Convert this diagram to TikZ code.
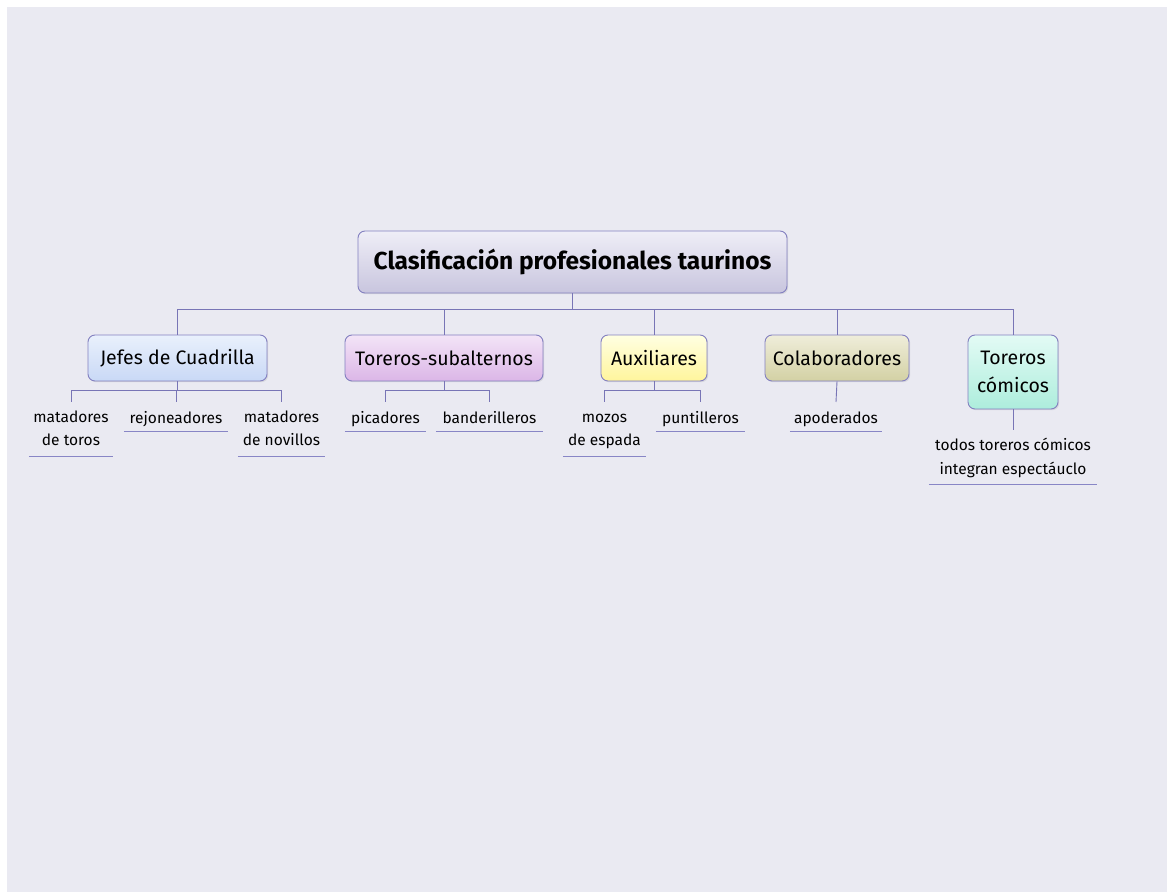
\documentclass[tikz,border=0pt]{standalone}
\usepackage{fontspec}
\setmainfont{Fira Sans}
\usetikzlibrary{shadows}
\definecolor{bgc}{HTML}{EAEAF2}
\definecolor{linec}{HTML}{7875B6}
\definecolor{ulc}{HTML}{8886C6}
\definecolor{borderc}{HTML}{8380C0}
\definecolor{rootT}{HTML}{EFEEF7}
\definecolor{rootB}{HTML}{C8C5DE}
\definecolor{jefT}{HTML}{E9F0FC}
\definecolor{jefB}{HTML}{C9D9F6}
\definecolor{subT}{HTML}{F3E4F7}
\definecolor{subB}{HTML}{DBB6E7}
\definecolor{auxT}{HTML}{FFFFE2}
\definecolor{auxB}{HTML}{FFF59C}
\definecolor{colT}{HTML}{EFEDDA}
\definecolor{colB}{HTML}{D3D1A4}
\definecolor{comT}{HTML}{E3FBF5}
\definecolor{comB}{HTML}{ADEDDC}
\tikzset{
  x=1pt, y=-1pt,
  conn/.style={draw=linec, line width=0.9pt},
  topic/.style={draw=borderc, line width=0.9pt, rounded corners=7pt, align=center,
    inner sep=0pt, font=\fontsize{19.5}{28}\selectfont,
    drop shadow={opacity=0.18, shadow xshift=1.2pt, shadow yshift=-1.2pt}},
  leaf/.style={anchor=north, align=center, inner sep=0pt,
    font=\fontsize{15.5}{24}\selectfont},
  leafone/.style={leaf, minimum height=29pt, text height=13pt, text depth=0pt},
  leaftwo/.style={leaf, minimum height=54pt},
}
\newcommand{\uline}[1]{\draw[ulc, line width=0.9pt] (#1.south west) -- (#1.south east);}
\newcommand{\twolines}[2]{\strut #1\\\strut #2}
\begin{document}
\begin{tikzpicture}
\useasboundingbox (0,0) rectangle (1168,893);
\fill[white] (0,0) rectangle (1168,893);
\fill[bgc] (7,7) rectangle (1167,892);

% root
\node[topic, top color=rootT, bottom color=rootB,
  minimum width=429pt, minimum height=62pt, font=\fontsize{24.5}{28}\selectfont\bfseries]
  (root) at (572.5,262) {Clasificación profesionales taurinos};

% main topics
\node[topic, top color=jefT, bottom color=jefB,
  minimum width=179pt, minimum height=46pt] (jefes) at (177.5,358) {Jefes de Cuadrilla};
\node[topic, top color=subT, bottom color=subB,
  minimum width=198pt, minimum height=46pt] (sub) at (444,358) {Toreros-subalternos};
\node[topic, top color=auxT, bottom color=auxB,
  minimum width=106pt, minimum height=46pt] (aux) at (654,358) {Auxiliares};
\node[topic, top color=colT, bottom color=colB,
  minimum width=144pt, minimum height=46pt] (col) at (837,358) {Colaboradores};
\node[topic, top color=comT, bottom color=comB,
  minimum width=90pt, minimum height=74pt] (com) at (1013,372) {Toreros\\cómicos};

% bus
\coordinate (rb) at (572.5,309);
\draw[conn] (root.south) -- (rb);
\draw[conn] (rb) -| (jefes.north);
\draw[conn] (rb) -| (sub.north);
\draw[conn] (rb) -| (aux.north);
\draw[conn] (rb) -| (col.north);
\draw[conn] (rb) -| (com.north);

% leaves
\node[leaftwo, minimum width=84pt] (l1) at (71,402) {\twolines{matadores}{de toros}};
\node[leafone, minimum width=104pt] (l2) at (176,402) {rejoneadores};
\node[leaftwo, minimum width=87pt] (l3) at (281.5,402) {\twolines{matadores}{de novillos}};
\node[leafone, minimum width=81pt] (l4) at (385.5,402) {picadores};
\node[leafone, minimum width=107pt] (l5) at (489.5,402) {banderilleros};
\node[leaftwo, minimum width=83pt] (l6) at (604.5,402) {\twolines{mozos}{de espada}};
\node[leafone, minimum width=89pt] (l7) at (700.5,402) {puntilleros};
\node[leafone, minimum width=92pt] (l8) at (836,402) {apoderados};
\node[leaftwo, minimum width=168pt] (l9) at (1013,430) {\twolines{todos toreros cómicos}{integran espectáuclo}};
\foreach \n in {l1,l2,l3,l4,l5,l6,l7,l8,l9} {\uline{\n}}

\coordinate (jb) at (177.5,390);
\coordinate (sb) at (444,390);
\coordinate (ab) at (654,390);
\draw[conn] (jefes.south) -- (jb);
\draw[conn] (jb) -| (l1.north);
\draw[conn] (jb) -| (l3.north);
\draw[conn] (jb) -| (l2.north);
\draw[conn] (sub.south) -- (sb);
\draw[conn] (sb) -| (l4.north);
\draw[conn] (sb) -| (l5.north);
\draw[conn] (aux.south) -- (ab);
\draw[conn] (ab) -| (l6.north);
\draw[conn] (ab) -| (l7.north);
\draw[conn] (col.south) -- (l8.north);
\draw[conn] (com.south) -- (l9.north);
\end{tikzpicture}
\end{document}
